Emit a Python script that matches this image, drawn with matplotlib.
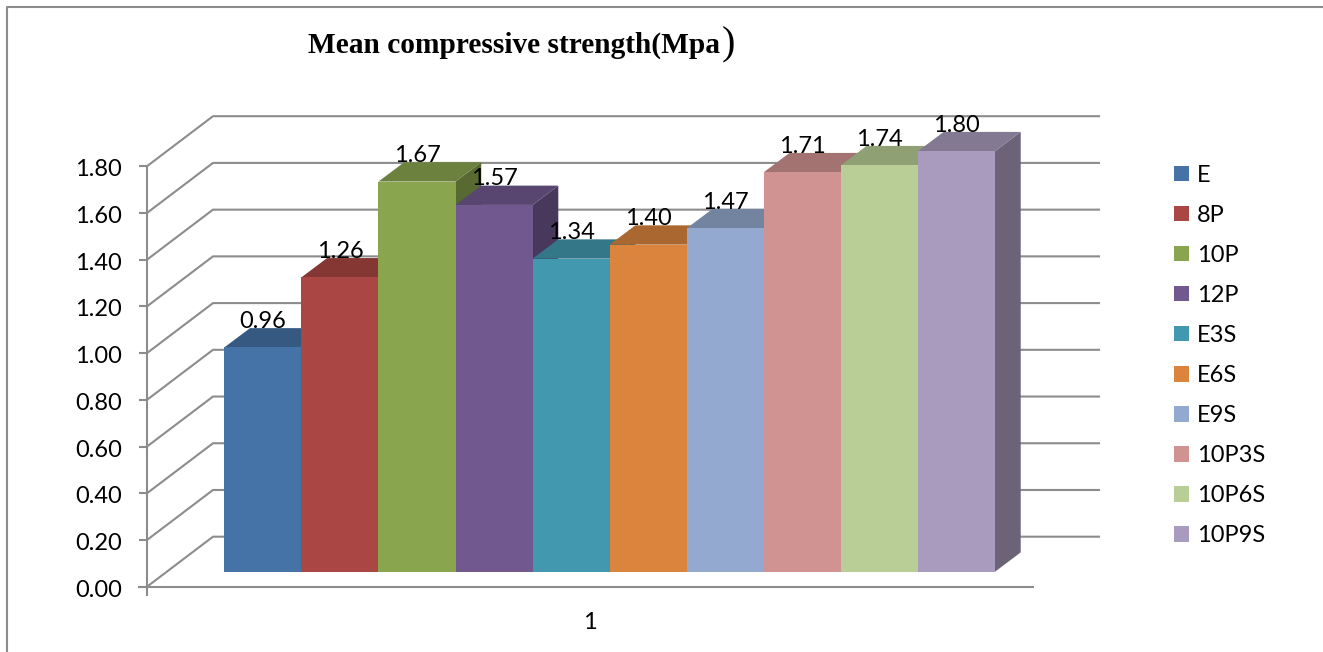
import matplotlib
matplotlib.use("Agg")
import matplotlib.pyplot as plt
from matplotlib.lines import Line2D
from matplotlib.patches import Patch
from matplotlib.colors import to_rgb
from matplotlib.transforms import ScaledTranslation

# ---- data ----
categories = ["E", "8P", "10P", "12P", "E3S", "E6S", "E9S", "10P3S", "10P6S", "10P9S"]
values = [0.96, 1.26, 1.67, 1.57, 1.34, 1.40, 1.47, 1.71, 1.74, 1.80]
yticks = [0.0, 0.2, 0.4, 0.6, 0.8, 1.0, 1.2, 1.4, 1.6, 1.8]
xlabel = ["1"]
colors = ["#4572A7", "#AA4643", "#89A54E", "#71588F", "#4198AF",
          "#DB843D", "#93A9CF", "#D19392", "#B9CD96", "#A99BBD"]

# ---- layout in pixels ----
W, H = 1323, 652
AX_L, AX_R, AX_B, AX_T = 147, 1033, 586.7, 166.2
PX_Y = (AX_B - AX_T) / 1.8          # pixels per value unit
PX_X = 77.07                        # pixels per bar slot
BAR0 = 262.85                       # pixel centre of first bar
GRAY = "#8C8C8C"
FONT = "Lato"
FS = 17

plt.rcParams["font.family"] = [FONT, "DejaVu Sans"]
fig = plt.figure(figsize=(W / 100, H / 100), dpi=100, facecolor="white")
ax = fig.add_axes([AX_L / W, 1 - AX_B / H, (AX_R - AX_L) / W, (AX_B - AX_T) / H])
ax.set_facecolor("none")
ax.set_xlim((AX_L - BAR0) / PX_X, (AX_R - BAR0) / PX_X)
ax.set_ylim(0, 1.8)

def dx(px):
    return px / PX_X

def dy(px):
    return px / PX_Y

x_left, x_right = ax.get_xlim()

# back-wall gridlines
for v in yticks:
    ax.plot([x_left, x_left + dx(66), x_left + dx(952)],
            [v, v + dy(50), v + dy(50)],
            color=GRAY, lw=1.5, clip_on=False, zorder=1, solid_joinstyle="miter")

# bars with faux 3-D depth
base = dy(15)
depth_x, depth_y = dx(25.7), dy(19.3)
def shade(c, f):
    return tuple(ch * f for ch in to_rgb(c))

z = 2
for i, (v, c) in enumerate(zip(values, colors)):
    l, r = i - 0.5, i + 0.5
    top = base + v
    ax.fill([r, r + depth_x, r + depth_x, r],
            [base, base + depth_y, top + depth_y, top],
            color=shade(c, 0.64), lw=0, clip_on=False, zorder=z)
    ax.fill([l, l + depth_x, r + depth_x, r],
            [top, top + depth_y, top + depth_y, top],
            color=shade(c, 0.78), lw=0, clip_on=False, zorder=z + 0.1)
    ax.bar(i, v, width=1.0, bottom=base, color=c, lw=0, clip_on=False, zorder=z + 0.2)
    z += 1

# data labels
for i, v in enumerate(values):
    ax.annotate(f"{v:.2f}", (i, base + v), xytext=(0, 26 * 0.72), textcoords="offset points",
                ha="center", va="center", fontsize=FS, color="black",
                annotation_clip=False, zorder=50)

# axes
for s in ("top", "right"):
    ax.spines[s].set_visible(False)
for s in ("left", "bottom"):
    ax.spines[s].set_color(GRAY)
    ax.spines[s].set_linewidth(1.5)
    ax.spines[s].set_zorder(40)
ax.set_yticks(yticks, [f"{t:.2f}" for t in yticks], fontsize=FS)
ax.tick_params(axis="y", length=6, width=1.5, color=GRAY, pad=12)
nudge = ScaledTranslation(0, -1.5 / 100, fig.dpi_scale_trans)
for lab in ax.get_yticklabels():
    lab.set_transform(lab.get_transform() + nudge)
ax.set_xticks([x_left], [""])
ax.tick_params(axis="x", which="major", length=6.5, width=1.5, color=GRAY)
ax.set_xticks([(x_left + x_right) / 2], xlabel, minor=True, fontsize=FS)
ax.tick_params(axis="x", which="minor", length=0, pad=18)
ax.plot([x_left - dx(8), x_left], [0, 0], color=GRAY, lw=1.5, clip_on=False, zorder=40)

# title
fig.text(308 / W, 1 - 45 / H, "Mean compressive strength(Mpa", family="Liberation Serif",
         weight="bold", fontsize=21.2, ha="left", va="center", color="black")
fig.text(722 / W, 1 - 45 / H, ")", family="Liberation Serif", weight="normal",
         fontsize=29, ha="left", va="center", color="black")

# legend
handles = [Patch(facecolor=c, edgecolor="none") for c in colors]
fs_px = FS / 0.72
leg = fig.legend(handles, categories, loc="upper left",
                 bbox_to_anchor=(1174 / W, 1 - 165 / H), bbox_transform=fig.transFigure,
                 frameon=False, fontsize=FS, borderpad=0, borderaxespad=0,
                 handlelength=15 / fs_px, handleheight=15 / fs_px,
                 handletextpad=8 / fs_px, labelspacing=0.805)

# outer frame
fig.add_artist(Line2D([7 / W, 7 / W, 1], [0, 1 - 7 / H, 1 - 7 / H],
                      transform=fig.transFigure, color=GRAY, lw=1.5))

fig.savefig("out.png", dpi=100, facecolor="white")
